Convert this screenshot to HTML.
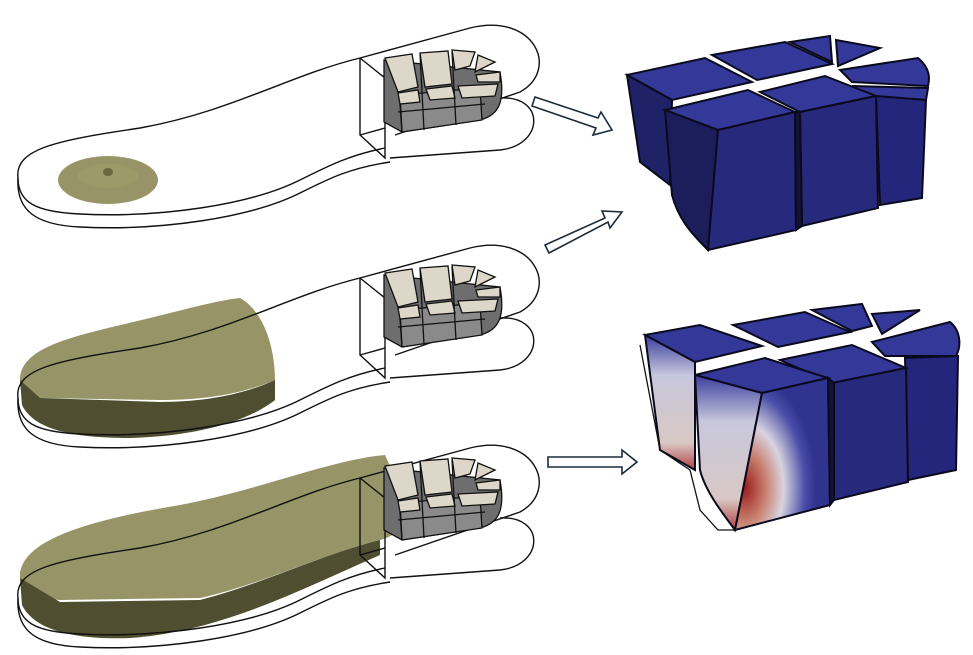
<!DOCTYPE html>
<html><head><meta charset="utf-8"><style>
html,body{margin:0;padding:0;background:#fff;width:973px;height:655px;overflow:hidden}
</style></head><body>
<svg width="973" height="655" viewBox="0 0 973 655" xmlns="http://www.w3.org/2000/svg">
<defs>
<g id="sole" fill="none" stroke="#111" stroke-width="1.4">
  <path d="M18,178 C14,148 60,140 140,128 C230,112 290,75 360,58 L470,28 C535,12 560,70 520,92 L395,135"/>
  <path d="M18,178 C18,202 35,212 80,214 C160,218 250,205 300,180 C330,165 350,155 385,148"/>
  <path d="M18,178 C16,210 35,225 80,227 C160,231 250,218 300,193 C330,178 350,168 390,162"/>
  <path d="M500,98 C545,95 545,145 500,150 L390,158"/>
  <path d="M360,58 L360,135 L385,158 L385,148"/>
  <path d="M360,58 L385,78 L385,148"/>
  <path d="M360,135 L385,128"/>
</g>
<g id="blocks" stroke="#111" stroke-width="1.3">
  <path d="M384,60 L500,72 C505,100 500,115 480,120 L402,132 L384,122 Z" fill="#6e6e6e"/>
  <path d="M400,95 L480,88 L482,120 L402,132 Z" fill="#8a8a8a"/>
  <path d="M385,58 L412,54 L418,87 L398,92 Z" fill="#dcd7c8"/>
  <path d="M420,53 L448,51 L452,84 L425,87 Z" fill="#dcd7c8"/>
  <path d="M452,50 L475,52 L470,66 L455,70 Z" fill="#dcd7c8"/>
  <path d="M478,55 L495,62 L475,72 Z" fill="#dcd7c8"/>
  <path d="M476,75 L500,72 L500,82 L478,82 Z" fill="#dcd7c8"/>
  <path d="M398,93 L418,90 L420,102 L400,104 Z" fill="#dcd7c8"/>
  <path d="M426,89 L452,86 L455,98 L430,100 Z" fill="#dcd7c8"/>
  <path d="M458,86 L498,84 L495,96 L462,98 Z" fill="#dcd7c8"/>
  <path d="M420,54 L424,130 M452,52 L456,125 M400,104 L402,132 M398,112 L485,104" fill="none"/>
</g>
<radialGradient id="heat" cx="0.1" cy="0.72" r="0.75">
  <stop offset="0" stop-color="#9a1b1b"/>
  <stop offset="0.3" stop-color="#c98070"/>
  <stop offset="0.55" stop-color="#d8d4e0"/>
  <stop offset="0.85" stop-color="#4a4ea8"/>
  <stop offset="1" stop-color="#30348f"/>
</radialGradient>
<linearGradient id="heat2" x1="0" y1="0" x2="0" y2="1">
  <stop offset="0" stop-color="#3a3e9e"/>
  <stop offset="0.3" stop-color="#c8c8dc"/>
  <stop offset="0.8" stop-color="#d8c8c4"/>
  <stop offset="1" stop-color="#b04040"/>
</linearGradient>
</defs>

<use href="#sole" x="0" y="0"/>
<ellipse cx="108" cy="180" rx="50" ry="24" fill="#8c8a58" opacity="0.9"/>
<ellipse cx="108" cy="176" rx="30" ry="12" fill="#9c9a68"/>
<ellipse cx="108" cy="172" rx="5" ry="4" fill="#6a6840"/>
<use href="#blocks" x="0" y="0"/>

<path d="M20,380 C20,345 80,335 150,318 C190,308 220,300 240,298 C265,312 275,350 275,380 C240,395 200,400 160,400 L40,398 C25,395 20,390 20,380 Z" fill="#8c8a58" opacity="0.9"/>
<path d="M20,380 L22,405 C35,432 80,438 130,438 C200,436 250,420 275,400 L275,380 C240,396 200,402 160,402 L40,398 Z" fill="#4f4e30"/>
<use href="#sole" x="0" y="220"/>
<use href="#blocks" x="0" y="215"/>

<path d="M20,578 C18,540 90,520 180,505 C260,490 330,460 385,455 L405,500 C410,520 400,535 380,540 C320,555 260,585 200,598 L60,600 C30,598 20,590 20,578 Z" fill="#8c8a58" opacity="0.9"/>
<path d="M20,578 L22,605 C35,632 80,640 130,638 C220,632 300,590 380,555 L380,540 C320,555 260,585 200,600 L60,602 Z" fill="#4f4e30"/>
<use href="#sole" x="0" y="420"/>
<use href="#blocks" x="0" y="408"/>

<g fill="#fff" stroke="#1c2d3a" stroke-width="1.6">
  <path d="M535,97 L598,118 L601,112 L612,130 L593,135 L596,128 L532,106 Z"/>
  <path d="M545,245 L605,218 L602,211 L622,212 L610,228 L608,222 L549,253 Z"/>
  <path d="M548,457 L622,457 L622,450 L637,462 L622,474 L622,467 L548,467 Z"/>
</g>

<g stroke="#0a0a1e" stroke-width="2">
  <path d="M627,75 L705,58 L752,82 L672,100 Z" fill="#343899"/>
  <path d="M627,75 L672,100 L670,185 L640,162 Z" fill="#1f2266"/>
  <path d="M712,55 L785,42 L832,64 L757,80 Z" fill="#343899"/>
  <path d="M790,42 L830,36 L832,62 Z" fill="#343899"/>
  <path d="M836,40 L880,48 L838,66 Z" fill="#343899"/>
  <path d="M840,70 L918,58 C930,68 930,78 928,86 L852,82 Z" fill="#343899"/>
  <path d="M852,86 L928,88 L926,100 L870,96 Z" fill="#343899"/>
  <path d="M876,96 L926,100 L922,198 L880,205 Z" fill="#23267a"/>
  <path d="M665,110 L748,90 L795,112 L718,130 Z" fill="#343899"/>
  <path d="M665,110 L718,130 L708,250 C690,232 678,218 672,195 Z" fill="#1c1e5c"/>
  <path d="M718,130 L795,112 L796,230 L708,250 Z" fill="#27297c"/>
  <path d="M760,92 L825,76 L876,96 L800,112 Z" fill="#343899"/>
  <path d="M800,112 L876,96 L878,208 L802,226 Z" fill="#27297c"/>
  <path d="M795,112 L800,112 L802,226 L796,230 Z" fill="#121436"/>
</g>

<g stroke="#0a0a1e" stroke-width="2">
  <path d="M733,325 L805,312 L850,332 L778,347 Z" fill="#343899"/>
  <path d="M812,310 L862,304 L872,326 L852,331 Z" fill="#343899"/>
  <path d="M872,314 L920,310 L882,334 Z" fill="#343899"/>
  <path d="M872,342 L950,322 C960,330 962,345 956,356 L885,356 Z" fill="#343899"/>
  <path d="M905,358 L958,356 L956,470 L908,480 Z" fill="#23267a"/>
  <path d="M645,335 L700,325 L762,346 L695,362 Z" fill="#343899"/>
  <path d="M645,335 L695,362 L695,470 L660,450 Z" fill="url(#heat2)"/>
  <path d="M780,360 L852,345 L906,368 L832,383 Z" fill="#343899"/>
  <path d="M832,383 L906,368 L908,482 L834,500 Z" fill="#27297c"/>
  <path d="M695,375 L765,358 L828,378 L762,393 Z" fill="#343899"/>
  <path d="M695,375 L762,393 L735,530 C720,510 705,490 700,470 Z" fill="url(#heat2)"/>
  <path d="M762,393 L828,378 L830,505 L735,530 Z" fill="url(#heat)"/>
  <path d="M828,378 L834,383 L834,500 L830,505 Z" fill="#121436"/>
</g>
<path d="M640,345 L660,450 L690,470 L700,510 L718,530 L735,530" fill="none" stroke="#111" stroke-width="1.3"/>
</svg>
</body></html>
